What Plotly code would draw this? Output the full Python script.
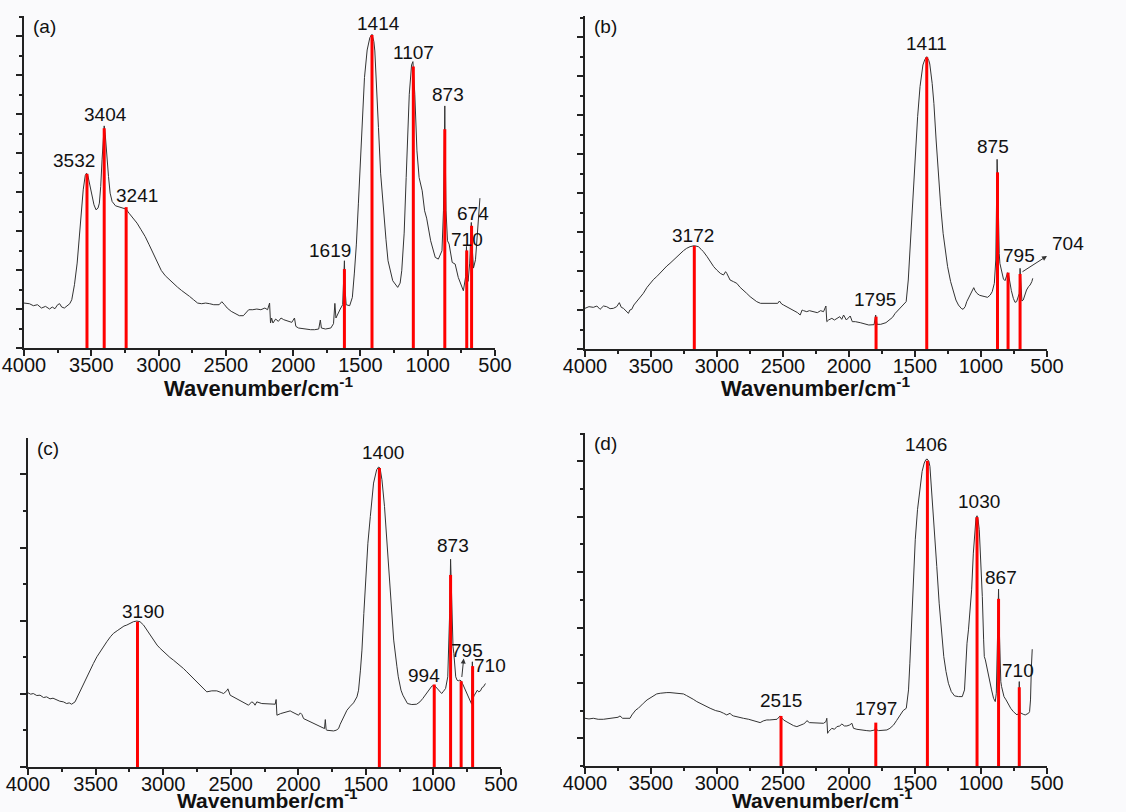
import plotly.graph_objects as go

# ---------------- data (wavenumber cm-1, intensity a.u.) ----------------
a_wn = [4000, 3960, 3930, 3900, 3870, 3840, 3810, 3790, 3770, 3750, 3735, 3720, 3700, 3680, 3660, 3645, 3625, 3605,
        3590, 3575, 3560, 3545, 3535, 3525, 3510, 3495, 3480, 3465, 3450, 3440, 3430, 3420, 3412, 3404, 3396, 3385,
        3372, 3360, 3345, 3320, 3290, 3260, 3241, 3220, 3190, 3160, 3130, 3100, 3070, 3040, 3010, 2980, 2950, 2920,
        2890, 2860, 2830, 2800, 2770, 2740, 2710, 2680, 2650, 2620, 2590, 2550, 2530, 2510, 2490, 2460, 2430, 2400,
        2370, 2350, 2330, 2300, 2270, 2240, 2210, 2190, 2175, 2168, 2160, 2150, 2130, 2110, 2090, 2070, 2050, 2030,
        2010, 1990, 1980, 1960, 1930, 1900, 1870, 1840, 1810, 1798, 1790, 1760, 1720, 1700, 1690, 1682, 1675, 1650,
        1632, 1622, 1619, 1614, 1606, 1580, 1560, 1545, 1530, 1515, 1500, 1485, 1470, 1450, 1430, 1414, 1400, 1393,
        1380, 1366, 1350, 1330, 1310, 1295, 1260, 1223, 1205, 1193, 1175, 1160, 1137, 1120, 1110, 1096, 1080, 1064,
        1041, 1023, 1008, 978, 944, 921, 894, 883, 876, 873, 869, 864, 853, 841, 818, 796, 773, 750, 735, 718, 712,
        706, 700, 688, 676, 670, 660, 645, 630, 612]
a_int = [13.5, 13.3, 12.7, 13.0, 12.0, 12.5, 11.7, 12.3, 11.8, 13.0, 13.3, 12.3, 12.0, 12.7, 13.3, 14.5, 19.0, 25.5,
         32.5, 40.5, 47.5, 51.8, 52.5, 51.7, 49.0, 45.5, 43.0, 41.5, 42.0, 43.5, 48.5, 56.5, 63.5, 66.7, 64.0, 57.5,
         51.5, 46.5, 44.0, 42.7, 42.3, 42.0, 41.7, 40.5, 39.0, 37.5, 35.5, 33.5, 31.0, 28.5, 25.5, 23.3, 21.7, 20.5,
         19.5, 18.3, 17.3, 16.5, 15.5, 14.5, 13.5, 13.3, 13.5, 13.3, 13.0, 13.0, 13.9, 13.0, 12.0, 11.0, 10.3, 9.7,
         9.7, 10.5, 11.5, 11.5, 11.7, 11.5, 12.0, 11.5, 13.5, 7.5, 9.0, 7.5, 8.7, 8.0, 9.0, 8.5, 8.3, 8.0,
         7.7, 9.0, 6.5, 6.0, 5.8, 5.7, 5.5, 5.5, 5.7, 8.4, 6.0, 5.7, 6.0, 7.3, 13.4, 9.0, 9.7, 11.7,
         13.0, 24.5, 26.2, 17.5, 13.0, 12.7, 15.2, 22.5, 31.2, 43.5, 56.2, 69.5, 81.2, 89.5, 93.2, 94.2, 92.0, 89.2,
         79.5, 66.2, 52.5, 41.2, 32.5, 26.2, 20.2, 18.2, 19.5, 23.2, 34.5, 51.2, 76.2, 85.0, 86.0, 76.2, 59.2, 51.2,
         47.2, 41.2, 39.0, 32.2, 27.2, 26.7, 29.2, 41.2, 59.5, 72.7, 56.5, 41.2, 32.2, 31.2, 25.7, 25.2, 21.2, 18.5,
         17.2, 21.5, 30.5, 22.5, 20.0, 25.5, 37.7, 30.5, 24.0, 26.5, 34.5, 45.0]

b_wn = [4000, 3970, 3937, 3910, 3886, 3860, 3836, 3810, 3785, 3760, 3740, 3725, 3709, 3690, 3671, 3660, 3646, 3630,
        3608, 3580, 3558, 3530, 3507, 3480, 3457, 3430, 3406, 3380, 3356, 3330, 3305, 3280, 3254, 3230, 3204, 3172,
        3141, 3120, 3103, 3075, 3052, 3025, 3002, 2975, 2951, 2935, 2926, 2901, 2875, 2850, 2825, 2800, 2775, 2749,
        2720, 2699, 2670, 2648, 2610, 2572, 2540, 2527, 2510, 2496, 2460, 2420, 2390, 2370, 2355, 2344, 2320, 2300,
        2269, 2240, 2215, 2193, 2175, 2168, 2155, 2130, 2110, 2092, 2070, 2055, 2041, 2020, 2005, 1991, 1975, 1952,
        1915, 1880, 1850, 1810, 1798, 1788, 1760, 1720, 1695, 1670, 1650, 1625, 1600, 1575, 1567, 1551, 1532, 1515,
        1497, 1480, 1462, 1440, 1425, 1411, 1395, 1388, 1370, 1357, 1340, 1322, 1305, 1287, 1270, 1253, 1230, 1206,
        1190, 1171, 1150, 1136, 1120, 1108, 1090, 1078, 1065, 1055, 1045, 1031, 1010, 996, 970, 950, 930, 915,
        899, 888, 884, 878, 872, 868, 862, 857, 850, 840, 830, 818, 808, 798, 790, 780, 770, 755, 742, 730, 718,
        710, 704, 698, 690, 680, 670, 655, 640, 628, 615, 608]
b_int = [12.2, 12.7, 12.5, 12.9, 11.9, 12.9, 12.7, 12.1, 12.2, 12.7, 13.9, 12.5, 12.2, 11.5, 10.7, 11.7, 11.9, 13.2,
         14.2, 15.7, 16.7, 18.5, 19.7, 20.9, 21.7, 22.9, 23.7, 24.9, 25.7, 26.7, 27.7, 28.7, 29.5, 30.2, 30.7, 31.0,
         30.7, 29.9, 29.2, 27.7, 26.2, 24.7, 23.7, 22.7, 22.2, 23.2, 22.7, 20.7, 20.2, 19.7, 18.5, 17.7, 16.7, 15.7,
         14.9, 14.2, 13.7, 13.7, 13.7, 13.5, 13.7, 14.4, 13.5, 13.2, 12.5, 11.7, 10.9, 10.2, 11.7, 11.5, 11.2, 11.5,
         11.2, 10.9, 11.5, 11.2, 12.9, 8.2, 8.7, 9.2, 8.7, 9.2, 9.7, 8.9, 10.2, 8.7, 9.2, 9.9, 8.2, 8.2,
         7.9, 7.5, 7.2, 7.3, 10.2, 7.4, 7.4, 7.9, 8.7, 9.5, 10.7, 11.7, 12.7, 13.7, 14.2, 20.7, 33.7, 46.7,
         58.7, 69.7, 78.7, 85.2, 86.9, 87.7, 86.5, 85.5, 79.7, 73.7, 62.7, 51.7, 42.7, 34.7, 29.2, 24.7, 20.2, 16.7,
         14.7, 13.2, 12.2, 11.9, 12.7, 14.2, 15.7, 16.7, 17.7, 18.4, 17.5, 16.7, 16.1, 15.9, 15.7, 15.5, 16.2, 17.2,
         19.7, 26.7, 34.7, 56.9, 48.7, 38.7, 28.7, 25.7, 24.5, 22.5, 21.0, 20.5, 21.8, 22.9, 22.0, 19.5, 17.5, 15.2, 14.0, 14.2, 15.5,
         16.7, 24.2, 17.5, 14.4, 14.7, 16.2, 17.7, 18.7, 19.2, 20.2, 21.2]

c_wn = [4000, 3980, 3961, 3935, 3911, 3885, 3862, 3837, 3815, 3788, 3765, 3738, 3714, 3695, 3677, 3652, 3635, 3615,
        3590, 3566, 3540, 3516, 3490, 3467, 3440, 3417, 3390, 3368, 3340, 3319, 3290, 3269, 3240, 3220, 3195, 3171,
        3145, 3121, 3095, 3072, 3045, 3022, 2995, 2973, 2950, 2924, 2900, 2874, 2850, 2825, 2800, 2776, 2750, 2726,
        2700, 2677, 2640, 2603, 2570, 2553, 2530, 2521, 2504, 2480, 2455, 2430, 2405, 2380, 2368, 2345, 2331, 2320,
        2307, 2270, 2233, 2200, 2171, 2164, 2158, 2130, 2109, 2080, 2060, 2047, 2020, 1998, 1985, 1973, 1961, 1935,
        1912, 1885, 1862, 1835, 1813, 1806, 1800, 1794, 1788, 1760, 1739, 1720, 1702, 1690, 1677, 1660, 1640, 1615,
        1591, 1566, 1554, 1540, 1529, 1515, 1504, 1485, 1467, 1443, 1420, 1406, 1395, 1381, 1362, 1344, 1328, 1307,
        1294, 1270, 1260, 1240, 1226, 1192, 1160, 1124, 1100, 1079, 1055, 1034, 1012, 994, 980, 966, 950, 939,
        925, 910, 894, 885, 880, 873, 868, 862, 855, 849, 840, 835, 825, 817, 805, 795, 785, 774, 755, 740, 725,
        717, 712, 706, 697, 685, 675, 665, 652, 640, 630, 615]
c_int = [22.2, 21.8, 22.0, 21.4, 21.5, 20.8, 21.0, 20.4, 20.6, 20.0, 19.7, 19.5, 19.0, 19.2, 18.8, 19.5, 21.0, 22.5,
         25.0, 27.0, 29.2, 31.0, 33.0, 34.5, 36.2, 37.5, 39.0, 40.0, 40.8, 41.5, 42.2, 42.5, 43.2, 43.5, 43.7, 43.5,
         42.5, 41.0, 39.5, 38.0, 36.5, 35.5, 34.5, 33.5, 32.8, 32.0, 31.2, 30.5, 29.5, 28.5, 27.5, 26.5, 25.5, 24.5,
         23.5, 22.5, 22.8, 22.8, 22.3, 22.0, 22.8, 23.4, 21.5, 21.0, 20.5, 20.0, 19.5, 19.0, 18.5, 19.5, 19.2, 18.5,
         19.5, 19.0, 19.0, 18.8, 18.8, 20.2, 15.5, 16.0, 16.2, 16.4, 16.8, 16.5, 16.0, 15.5, 16.2, 15.7, 14.5, 14.0,
         13.5, 13.0, 12.5, 12.0, 11.5, 11.5, 14.2, 11.2, 11.0, 10.8, 10.8, 11.0, 11.5, 12.8, 14.0, 15.5, 17.0, 18.2,
         19.2, 21.0, 23.0, 29.0, 35.0, 46.0, 55.0, 67.0, 75.0, 85.0, 89.0, 89.8, 89.5, 86.0, 78.0, 67.0, 56.0, 45.0,
         38.0, 30.0, 27.0, 23.0, 21.5, 19.0, 18.7, 18.8, 19.5, 20.5, 21.8, 23.2, 24.2, 24.5, 23.8, 23.0, 22.3, 22.0,
         22.7, 23.5, 27.0, 38.0, 46.0, 62.2, 54.0, 44.0, 36.0, 34.0, 28.5, 27.0, 26.0, 25.8, 26.0, 25.8, 25.0, 24.0, 22.0, 20.5, 19.5,
         18.8, 31.5, 20.7, 21.5, 22.2, 23.0, 22.5, 22.8, 23.8, 24.0, 25.0]

d_wn = [4000, 3970, 3937, 3900, 3861, 3820, 3785, 3750, 3735, 3715, 3697, 3670, 3659, 3645, 3634, 3615, 3596, 3575,
        3558, 3530, 3507, 3480, 3457, 3430, 3406, 3380, 3356, 3330, 3305, 3280, 3254, 3230, 3204, 3180, 3153, 3130,
        3103, 3080, 3052, 3010, 2977, 2950, 2926, 2901, 2890, 2875, 2840, 2800, 2760, 2724, 2700, 2673, 2650, 2623,
        2600, 2572, 2545, 2522, 2505, 2496, 2470, 2446, 2420, 2395, 2370, 2345, 2330, 2319, 2300, 2269, 2230, 2193,
        2175, 2168, 2162, 2155, 2130, 2110, 2092, 2070, 2054, 2035, 2016, 1995, 1978, 1966, 1940, 1915, 1890, 1865,
        1840, 1814, 1803, 1797, 1790, 1776, 1750, 1713, 1690, 1662, 1640, 1612, 1590, 1566, 1549, 1539, 1523, 1510,
        1498, 1481, 1460, 1446, 1430, 1418, 1408, 1395, 1387, 1370, 1352, 1335, 1317, 1300, 1282, 1265, 1247, 1225,
        1200, 1170, 1142, 1125, 1118, 1106, 1095, 1083, 1071, 1058, 1048, 1038, 1030, 1022, 1013, 1000, 990, 980,
        975, 967, 955, 943, 930, 920, 905, 892, 884, 878, 872, 867, 862, 856, 850, 844, 835, 826, 810, 791, 775,
        755, 740, 727, 716, 710, 704, 697, 680, 665, 650, 640, 632, 625, 618, 612]
d_int = [14.3, 14.1, 14.3, 14.0, 14.0, 14.2, 14.3, 14.6, 15.0, 14.3, 14.3, 14.2, 14.3, 15.3, 15.8, 16.8, 17.3, 18.3,
         18.8, 19.8, 20.3, 21.1, 21.6, 21.8, 22.0, 22.0, 22.0, 21.9, 21.8, 21.7, 21.6, 21.1, 20.6, 20.0, 19.3, 18.8,
         18.3, 17.8, 17.3, 16.6, 16.3, 15.8, 15.3, 15.8, 15.3, 15.0, 14.6, 14.3, 14.0, 13.6, 13.2, 13.0, 13.5, 13.8,
         13.8, 14.0, 14.0, 15.0, 14.3, 13.8, 13.2, 12.6, 12.1, 11.8, 12.1, 12.6, 13.0, 13.6, 13.0, 13.0, 12.8, 12.8,
         13.3, 14.3, 9.8, 10.3, 11.3, 11.0, 11.8, 12.0, 12.6, 12.0, 12.0, 12.3, 12.8, 11.3, 11.0, 10.8, 10.7, 10.6,
         10.5, 10.6, 10.8, 12.8, 10.8, 10.6, 10.6, 10.8, 11.3, 12.3, 13.6, 15.3, 16.6, 17.3, 22.8, 30.8, 44.8, 57.8,
         67.8, 76.8, 84.8, 88.3, 90.8, 91.8, 92.0, 91.3, 89.8, 80.8, 70.8, 59.8, 48.8, 39.8, 32.8, 28.3, 24.8, 22.3,
         21.0, 20.8, 20.8, 22.8, 28.8, 36.8, 40.8, 47.8, 52.8, 63.8, 70.8, 74.3, 75.0, 73.8, 70.8, 59.8, 50.8, 37.8,
         32.8, 31.8, 29.3, 26.8, 23.8, 22.8, 20.3, 19.3, 21.8, 31.8, 49.8, 53.0, 41.8, 30.8, 25.3, 23.8, 22.0, 20.8, 19.8, 18.3, 17.3,
         16.3, 15.8, 15.3, 15.8, 25.3, 16.0, 15.8, 15.5, 15.3, 15.5, 15.8, 16.3, 19.8, 29.8, 35.0]

# marked peaks (wavenumber) and bar heights
a_peaks = [3532, 3404, 3241, 1619, 1414, 1107, 873, 710, 674]
a_bars = [52.3, 66.0, 42.3, 23.7, 94.0, 84.5, 65.7, 29.3, 36.7]
b_peaks = [3172, 1795, 1411, 875, 795, 704]
b_bars = [30.9, 9.7, 87.5, 53.0, 22.9, 22.5]
c_peaks = [3190, 1400, 994, 873, 795, 710]
c_bars = [43.5, 89.5, 24.7, 57.5, 25.7, 30.2]
d_peaks = [2515, 1797, 1406, 1030, 867, 710]
d_bars = [15.0, 13.0, 91.5, 74.6, 50.1, 23.6]

x_ticks = [4000, 3500, 3000, 2500, 2000, 1500, 1000, 500]
panel_letters = ["(a)", "(b)", "(c)", "(d)"]
x_title = "Wavenumber/cm<sup>-1</sup>"

# ---------------- layout constants ----------------
W, H = 1126, 812
FONT = "Liberation Sans, Arial, sans-serif"
# plot areas in px: (left, right, top, bottom)
boxes = [(24, 495, 16, 348), (585, 1047, 16, 349), (28, 501, 438, 767), (585, 1047, 433, 766)]
# axis-title centres in px and sizes
title_pos = [(258, 387, 22), (815, 387, 22), (267, 799, 21), (822, 799, 21)]
yranges = [99.7, 99.9, 98.5, 99.8]
ytick = [(0, 11.7, 5.85), (0, 11.7, 5.85), (0, 21.9, 10.95), (8.3, 16.6, 8.3)]

# label placements (x in cm-1, y in a.u.); None -> placed in page coordinates
a_lab = [(3628, 56.2), (3391, 70.2), (3158, 45.7), (1726, 29.3), (1367, 97.3), (1107, 88.8), (847, 76.0), (710, 32.5), (666, 40.5)]
b_lab = [(3179, 33.9), (1806, 15.0), (1410, 91.7), (912, 60.7), (715, 28.0), None]
c_lab = [(3146, 46.5), (1376, 94.2), (1067, 27.5), (855, 66.3), (751, 34.8), (579, 30.3)]
d_lab = [(2517, 19.6), (1796, 17.3), (1417, 96.3), (1013, 79.3), (849, 56.6), (722, 28.6)]

spectra = [(a_wn, a_int), (b_wn, b_int), (c_wn, c_int), (d_wn, d_int)]
peaks = [(a_peaks, a_bars), (b_peaks, b_bars), (c_peaks, c_bars), (d_peaks, d_bars)]
labels = [a_lab, b_lab, c_lab, d_lab]

fig = go.Figure()
layout = dict(width=W, height=H, margin=dict(l=0, r=0, t=0, b=0), autosize=False,
              paper_bgcolor="#fafafc", plot_bgcolor="#fafafc", showlegend=False,
              font=dict(family=FONT, color="#111"))
annotations = []

for i in range(4):
    sfx = "" if i == 0 else str(i + 1)
    xa, ya = "x" + sfx, "y" + sfx
    l, r, t, b = boxes[i]
    wn, inten = spectra[i]
    fig.add_trace(go.Scatter(x=wn, y=inten, mode="lines", xaxis=xa, yaxis=ya,
                             line=dict(color="#333333", width=1), hoverinfo="skip"))
    pk, hb = peaks[i]
    bx, by = [], []
    for p, hh in zip(pk, hb):
        bx += [p, p, None]
        by += [0, hh, None]
    fig.add_trace(go.Scatter(x=bx, y=by, mode="lines", xaxis=xa, yaxis=ya,
                             line=dict(color="#ff0000", width=3), hoverinfo="skip"))
    t0, dt, mdt = ytick[i]
    layout["xaxis" + sfx] = dict(
        domain=[l / W, r / W], anchor=ya, range=[4000, 500], tickmode="array", tickvals=x_ticks,
        automargin=False, ticklabelstandoff=-8,
        ticks="outside", ticklen=6, tickwidth=1.5, tickcolor="#222", showline=True, linecolor="#222",
        linewidth=1.5, showgrid=False, zeroline=False,
        minor=dict(ticks="outside", ticklen=3, dtick=250, tick0=500, tickcolor="#222", tickwidth=1.5, showgrid=False),
        tickfont=dict(size=20, color="#111", family=FONT))
    layout["yaxis" + sfx] = dict(
        domain=[1 - b / H, 1 - t / H], anchor=xa, range=[0, yranges[i]], showticklabels=False,
        automargin=False,
        tick0=t0, dtick=dt, ticks="outside", ticklen=6, tickwidth=1.5, tickcolor="#222",
        showline=True, linecolor="#222", linewidth=1.5, showgrid=False, zeroline=False,
        minor=dict(ticks="outside", ticklen=3, tick0=t0, dtick=mdt, tickcolor="#222", tickwidth=1.5, showgrid=False))
    for pos, p in zip(labels[i], pk):
        if pos is None:
            continue
        lx, ly = pos
        annotations.append(dict(x=lx, y=ly, xref=xa, yref=ya, text=str(p), showarrow=False,
                                xanchor="center", yanchor="middle", font=dict(size=19, color="#111")))
    annotations.append(dict(x=(l + 20) / W, y=1 - (t + 10) / H, xref="paper", yref="paper",
                            text=panel_letters[i], showarrow=False, xanchor="center", yanchor="middle",
                            font=dict(size=19, color="#111")))
    tx, ty, ts = title_pos[i]
    annotations.append(dict(x=tx / W, y=1 - ty / H, xref="paper", yref="paper", text=x_title,
                            showarrow=False, xanchor="center", yanchor="middle",
                            font=dict(size=ts, color="#111", family=FONT, weight="bold")))

# "704" label of panel (b) sits outside the plot area
annotations.append(dict(x=1068 / W, y=1 - 244 / H, xref="paper", yref="paper", text=str(b_peaks[5]),
                        showarrow=False, xanchor="center", yanchor="middle", font=dict(size=19, color="#111")))
# arrows
annotations.append(dict(x=500, y=27.9, xref="x2", yref="y2", ax=697, ay=22.9, axref="x2", ayref="y2",
                        text="", showarrow=True, arrowhead=2, arrowsize=1, arrowwidth=1, arrowcolor="#333",
                        standoff=0, startstandoff=0))
annotations.append(dict(x=776, y=32.5, xref="x3", yref="y3", ax=791, ay=26.5, axref="x3", ayref="y3",
                        text="", showarrow=True, arrowhead=2, arrowsize=1, arrowwidth=1, arrowcolor="#333",
                        standoff=0, startstandoff=0))

layout["annotations"] = annotations
fig.update_layout(**layout)
fig.write_html("out.html")
